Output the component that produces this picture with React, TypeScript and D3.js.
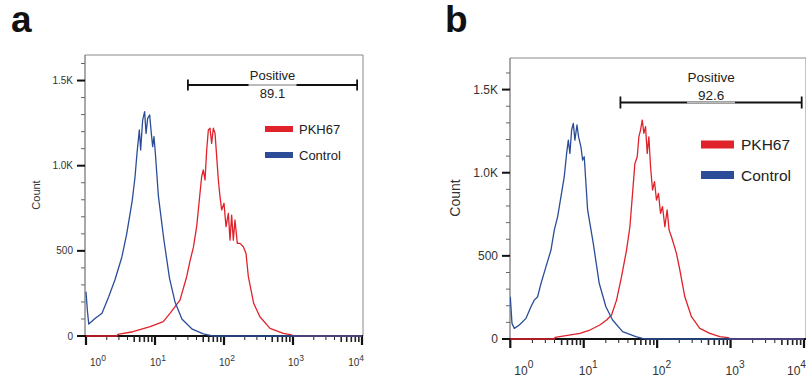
import * as d3 from "d3";

// panel a: log10(fluorescence) and event counts
const controlA_exp = [0, 0.02, 0.04, 0.135, 0.232, 0.329, 0.42, 0.52, 0.59, 0.67, 0.71, 0.739, 0.773, 0.792, 0.821, 0.85, 0.87, 0.894, 0.923, 0.942, 0.966, 0.985, 1.005, 1.05, 1.13, 1.21, 1.29, 1.39, 1.54, 1.7, 1.8, 1.85, 4];
const controlA_count = [260, 150, 70, 104, 133, 231, 330, 464, 600, 795, 932, 1073, 1210, 1092, 1268, 1317, 1190, 1278, 1298, 1210, 1112, 1171, 1073, 818, 561, 340, 200, 100, 40, 12, 4, 0, 0];
const pkhA_exp = [0, 0.45, 0.46, 0.68, 0.93, 1.12, 1.217, 1.362, 1.459, 1.507, 1.556, 1.604, 1.652, 1.676, 1.7, 1.725, 1.749, 1.773, 1.797, 1.821, 1.845, 1.87, 1.894, 1.918, 1.942, 1.966, 2.0, 2.029, 2.063, 2.087, 2.111, 2.135, 2.159, 2.193, 2.232, 2.28, 2.319, 2.353, 2.43, 2.52, 2.667, 2.86, 2.98, 3.0, 4];
const pkhA_count = [0, 0, 10, 25, 55, 84, 133, 211, 348, 440, 520, 642, 838, 935, 975, 916, 1092, 1210, 1220, 1131, 1220, 1190, 1053, 916, 818, 740, 779, 642, 720, 563, 710, 563, 681, 544, 544, 524, 485, 348, 192, 113, 45, 16, 6, 0, 0];

// panel b
const controlB_exp = [0, 0.023, 0.055, 0.123, 0.213, 0.281, 0.327, 0.372, 0.418, 0.486, 0.554, 0.599, 0.645, 0.69, 0.735, 0.767, 0.79, 0.812, 0.835, 0.858, 0.88, 0.908, 0.93, 0.962, 0.985, 1.007, 1.053, 1.13, 1.211, 1.302, 1.393, 1.529, 1.71, 1.801, 1.87, 4];
const controlB_count = [254, 94, 64, 84, 124, 194, 234, 254, 334, 435, 535, 655, 736, 856, 976, 1116, 1196, 1116, 1257, 1297, 1196, 1287, 1216, 1156, 1076, 1096, 776, 575, 335, 194, 114, 44, 14, 4, 0, 0];
const pkhB_exp = [0, 0.6, 0.61, 0.948, 1.084, 1.22, 1.311, 1.379, 1.447, 1.515, 1.583, 1.629, 1.665, 1.697, 1.729, 1.751, 1.774, 1.797, 1.819, 1.842, 1.865, 1.887, 1.91, 1.937, 1.964, 1.991, 2.018, 2.046, 2.073, 2.105, 2.136, 2.163, 2.195, 2.263, 2.309, 2.377, 2.467, 2.581, 2.717, 2.853, 2.966, 3.0, 4];
const pkhB_count = [0, 0, 10, 34, 54, 84, 114, 144, 234, 375, 535, 675, 876, 1056, 1096, 1216, 1257, 1317, 1237, 1277, 1116, 1216, 1036, 896, 946, 836, 876, 756, 796, 675, 776, 655, 615, 515, 415, 254, 134, 64, 34, 14, 8, 0, 0];

const yTickValues = [0, 500, 1000, 1500];
const yTickLabels = ["0", "500", "1.0K", "1.5K"];
const decades = [0, 1, 2, 3, 4];
const legendLabels = ["PKH67", "Control"];
const gateLabel = "Positive";
const gateA = [30, 8500];
const gateB = [31.6, 9300];
const gateValueA = "89.1";
const gateValueB = "92.6";
const yMaxA = 1650;
const yMaxB = 1690;

const RED = "#e0222b";
const BLUE = "#2b4d98";
const FONT = "'Liberation Sans', Arial, Helvetica, sans-serif";

type Layout = {
  letter: string; letterX: number; letterY: number;
  left: number; right: number; top: number; bottom: number; x0: number; x1: number;
  tickFont: number; xFont: number; xLabelY: number; supDy: number;
  countFont: number; countX: number; countY: number;
  legX: number; legW: number; legH: number; legY: number[]; legFont: number; legTextX: number;
  gateY: number; gateFont: number; posY: number; valY: number; gateCap: number;
};

const layoutA: Layout = {
  letter: "a", letterX: 11, letterY: 32,
  left: 85, right: 363, top: 55, bottom: 336, x0: 86, x1: 362,
  tickFont: 10, xFont: 10, xLabelY: 366, supDy: -5,
  countFont: 11, countX: 40, countY: 195,
  legX: 265, legW: 28, legH: 6, legY: [129, 155], legFont: 13, legTextX: 299,
  gateY: 85, gateFont: 13, posY: 80, valY: 98, gateCap: 5.5,
};

const layoutB: Layout = {
  letter: "b", letterX: 445, letterY: 32,
  left: 510, right: 806, top: 58, bottom: 339, x0: 510.3, x1: 804,
  tickFont: 12, xFont: 12, xLabelY: 375, supDy: -7,
  countFont: 14, countX: 460, countY: 198,
  legX: 701, legW: 33, legH: 8, legY: [144.5, 175], legFont: 15.5, legTextX: 741,
  gateY: 102.5, gateFont: 13.5, posY: 82, valY: 100, gateCap: 6,
};

function Panel({ L, yMax, series, gate, gateValue }: {
  L: Layout; yMax: number;
  series: { exp: number[]; count: number[]; color: string }[];
  gate: number[]; gateValue: string;
}) {
  const x = d3.scaleLog().domain([1, 10000]).range([L.x0, L.x1]);
  const y = d3.scaleLinear().domain([0, yMax]).range([L.bottom, L.top]);
  const line = d3.line<[number, number]>()
    .x((d) => x(Math.pow(10, d[0])))
    .y((d) => y(d[1]));

  const minorY = d3.range(0, yMax, 100).filter((v) => v % 500 !== 0);
  const minorX: number[] = [];
  for (let k = 0; k < 4; k++) for (let m = 2; m <= 9; m++) minorX.push(m * Math.pow(10, k));

  const g0 = x(gate[0]);
  const g1 = x(gate[1]);
  const gm = (g0 + g1) / 2;
  const clipId = "clip-" + L.letter;

  return (
    <g fontFamily={FONT}>
      <text x={L.letterX} y={L.letterY} fontSize={37} fontWeight="bold" fill="#111">{L.letter}</text>
      <clipPath id={clipId}>
        <rect x={L.left} y={L.top} width={L.right - L.left} height={L.bottom - L.top + 2} />
      </clipPath>
      {/* frame */}
      <path d={`M${L.left},${L.top}H${L.right}V${L.bottom}`} fill="none" stroke="#8a8a8a" strokeWidth={1} />
      <line x1={L.left} x2={L.left} y1={L.top} y2={L.bottom} stroke="#555" strokeWidth={1} />

      {/* y axis */}
      {minorY.map((v) => (
        <line key={"my" + v} x1={L.left - 4} x2={L.left} y1={y(v)} y2={y(v)} stroke="#666" strokeWidth={1} />
      ))}
      {yTickValues.map((v, i) => (
        <g key={"y" + v}>
          <line x1={L.left - 8} x2={L.left} y1={y(v)} y2={y(v)} stroke="#111" strokeWidth={2} />
          <text x={L.left - 12} y={y(v) + L.tickFont * 0.36} textAnchor="end" fontSize={L.tickFont} fill="#333">{yTickLabels[i]}</text>
        </g>
      ))}
      <text transform={`translate(${L.countX},${L.countY}) rotate(-90)`} textAnchor="middle" fontSize={L.countFont} fill="#333">Count</text>

      {/* x axis */}
      <line x1={L.left - 8} x2={L.right} y1={L.bottom} y2={L.bottom} stroke="#111" strokeWidth={2} />
      {minorX.map((v) => {
        const m = Math.round(v / Math.pow(10, Math.floor(Math.log10(v) + 1e-9)));
        return <line key={"mx" + v} x1={x(v)} x2={x(v)} y1={L.bottom} y2={L.bottom + (m >= 5 ? 6 : 4)} stroke="#222" strokeWidth={m >= 5 ? 1.6 : 1} />;
      })}
      {decades.map((k, i) => {
        const px = x(Math.pow(10, k));
        const anchor = i === decades.length - 1 ? "end" : "start";
        const tx = i === 0 ? px + 4 : i === decades.length - 1 ? Math.min(px + 2, 806) : px - 5;
        return (
          <g key={"x" + k}>
            <line x1={px} x2={px} y1={L.bottom} y2={L.bottom + 9} stroke="#111" strokeWidth={2.2} />
            <text x={tx} y={L.xLabelY} textAnchor={anchor} fontSize={L.xFont} fill="#333">
              10<tspan dy={L.supDy} fontSize={L.xFont * 0.85}>{k}</tspan>
            </text>
          </g>
        );
      })}

      {/* histograms, drawn over the axis line like the cytometer export */}
      <g clipPath={`url(#${clipId})`}>
        {series.map((s, i) => (
          <path key={i} d={line(d3.zip(s.exp, s.count) as [number, number][]) || ""} fill="none" stroke={s.color} strokeWidth={1.3} strokeLinejoin="round" />
        ))}
      </g>

      {/* gate */}
      <line x1={g0} x2={g1} y1={L.gateY} y2={L.gateY} stroke="#111" strokeWidth={1.8} />
      <line x1={gm - 24} x2={gm + 24} y1={L.gateY} y2={L.gateY} stroke="#bbb" strokeWidth={1.8} />
      <line x1={g0} x2={g0} y1={L.gateY - L.gateCap} y2={L.gateY + L.gateCap} stroke="#111" strokeWidth={1.8} />
      <line x1={g1} x2={g1} y1={L.gateY - L.gateCap} y2={L.gateY + L.gateCap} stroke="#111" strokeWidth={1.8} />
      <text x={gm} y={L.posY} textAnchor="middle" fontSize={L.gateFont} fill="#222">{gateLabel}</text>
      <text x={gm} y={L.valY} textAnchor="middle" fontSize={L.gateFont} fill="#222">{gateValue}</text>

      {/* legend */}
      {legendLabels.map((lab, i) => (
        <g key={lab}>
          <rect x={L.legX} y={L.legY[i] - L.legH / 2} width={L.legW} height={L.legH} fill={i === 0 ? RED : BLUE} />
          <text x={L.legTextX} y={L.legY[i] + L.legFont * 0.36} fontSize={L.legFont} fill="#222">{lab}</text>
        </g>
      ))}
    </g>
  );
}

export default function App() {
  return (
    <svg width={806} height={379} style={{ position: "absolute", left: 0, top: 0, background: "#fff" }}>
      <Panel
        L={layoutA}
        yMax={yMaxA}
        gate={gateA}
        gateValue={gateValueA}
        series={[
          { exp: pkhA_exp, count: pkhA_count, color: RED },
          { exp: controlA_exp, count: controlA_count, color: BLUE },
        ]}
      />
      <Panel
        L={layoutB}
        yMax={yMaxB}
        gate={gateB}
        gateValue={gateValueB}
        series={[
          { exp: pkhB_exp, count: pkhB_count, color: RED },
          { exp: controlB_exp, count: controlB_count, color: BLUE },
        ]}
      />
    </svg>
  );
}
